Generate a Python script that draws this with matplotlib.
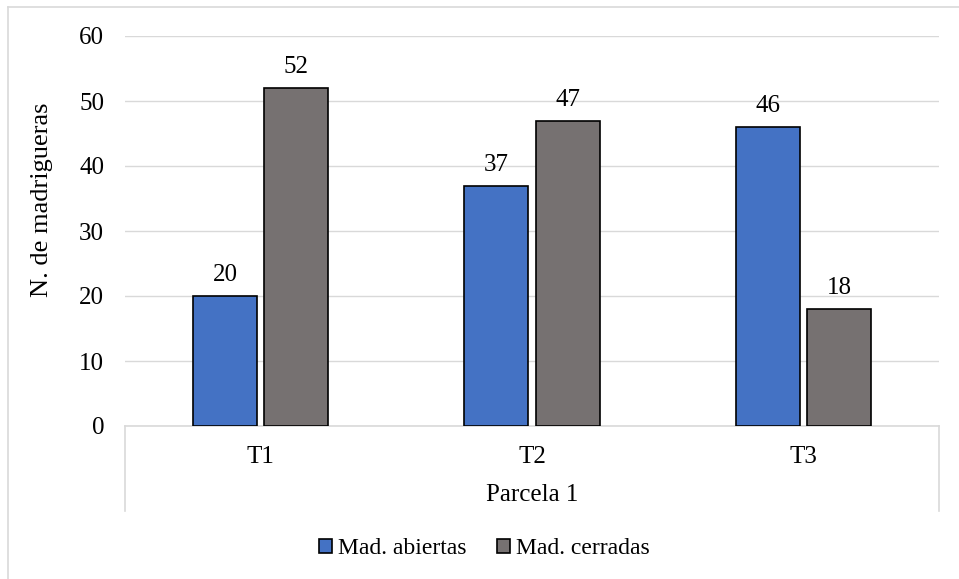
import matplotlib.pyplot as plt
from matplotlib.lines import Line2D
import numpy as np

plt.rcParams['font.family'] = ['Liberation Serif', 'DejaVu Serif']

categories = ["T1", "T2", "T3"]
group_label = "Parcela 1"
series_names = ["Mad. abiertas", "Mad. cerradas"]
abiertas = [20, 37, 46]
cerradas = [52, 47, 18]
colors = ["#4472C4", "#767171"]

W, H = 959, 579
fig = plt.figure(figsize=(W / 100, H / 100), dpi=100)
ax = fig.add_axes([125 / W, 1 - 426 / H, (939 - 125) / W, (426 - 36) / H])

x = np.arange(len(categories))
bw = 0.236
off = 0.131
for vals, dx, c, name in zip([abiertas, cerradas], [-off, off], colors, series_names):
    bars = ax.bar(x + dx, vals, bw, color=c, edgecolor="black", linewidth=1.2,
                  label=name, zorder=3)
    for b, v in zip(bars, vals):
        ax.annotate(str(v), (b.get_x() + b.get_width() / 2, v), xytext=(0, 7),
                    textcoords="offset points", ha="center", va="bottom",
                    fontsize=18)

ax.set_xlim(-0.5, 2.5)
ax.set_ylim(0, 60)
ax.set_yticks(range(0, 61, 10))
ax.yaxis.grid(True, color="#d9d9d9", linewidth=1, zorder=0)
ax.tick_params(axis="y", length=0, labelsize=18, pad=15)
ax.set_xticks([])
for s in ["top", "right", "left"]:
    ax.spines[s].set_visible(False)
ax.spines["bottom"].set_color("#d9d9d9")
ax.spines["bottom"].set_linewidth(1.2)
ax.set_ylabel("N. de madrigueras", fontsize=19)
ax.yaxis.set_label_coords(-(125 - 53) / (939 - 125), (426 - 200) / 390)

# two-level category axis below the plot
trans = ax.get_xaxis_transform()
for xc, lab in zip(x, categories):
    ax.text(xc, -(457 - 426) / 390, lab, transform=trans, ha="center", va="center",
            fontsize=18)
ax.text(1, -(495 - 426) / 390, group_label, transform=trans, ha="center",
        va="center", fontsize=18)
ybot = -(511 - 426) / (426 - 36)
for xe in [-0.5, 2.5]:
    ax.add_line(Line2D([xe, xe], [0, ybot], transform=trans, color="#d9d9d9",
                       linewidth=1.2, clip_on=False))

fig.legend(loc="center", bbox_to_anchor=(0.5 + 5 / W, 1 - 549 / H), ncol=2,
           frameon=False, fontsize=17, handlelength=0.55, handleheight=0.55,
           handletextpad=0.25, columnspacing=1.3)

# outer chart border
fig.add_artist(Line2D([8 / W, 8 / W], [0, 1 - 7 / H], transform=fig.transFigure,
                      color="#d9d9d9", linewidth=1.2))
fig.add_artist(Line2D([8 / W, 1], [1 - 7 / H, 1 - 7 / H], transform=fig.transFigure,
                      color="#d9d9d9", linewidth=1.2))

fig.savefig("out.png", dpi=100, facecolor="white")
